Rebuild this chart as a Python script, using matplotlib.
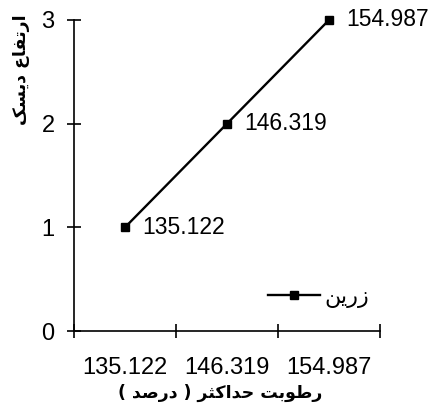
import matplotlib
matplotlib.use("Agg")
import matplotlib.pyplot as plt

# data
categories = ["135.122", "146.319", "154.987"]
heights = [1, 2, 3]
point_labels = ["135.122", "146.319", "154.987"]
y_ticks = [0, 1, 2, 3]

# persian text, pre-shaped (presentation forms, visual order) since matplotlib has no bidi
series_name = "\uFEE6\uFEF3\uFEAD\uFEAF"  # zarrin
y_title = "\uFB8F\uFEB4\uFEF3\uFEA9 \uFEC9\uFE8E\uFED4\uFE97\uFEAD\uFE8D"  # ertefa disk
x_title = ("( \uFEAA\uFEBB\uFEAD\uFEA9 ) "
           "\uFEAE\uFE9C\uFB90\uFE8D\uFEAA\uFEA3 "
           "\uFE96\uFE91\uFEEE\uFEC3\uFEAD")  # rotubat hadaksar (darsad)

plt.rcParams['font.family'] = ['Liberation Sans', 'DejaVu Sans']

fig = plt.figure(figsize=(4.30, 4.11), dpi=100)
ax = fig.add_axes([74 / 430, (411 - 331) / 411, 306 / 430, 311 / 411])

x = list(range(len(categories)))
line, = ax.plot(x, heights, color='black', lw=1.7, marker='s', ms=6.3,
                label=series_name, clip_on=False)

for xi, yi, lab in zip(x, heights, point_labels):
    ax.annotate(lab, (xi, yi), xytext=(12.5, 0), textcoords='offset points',
                ha='left', va='center', fontsize=16.5)

ax.set_xlim(-0.5, len(categories) - 0.5)
ax.set_ylim(0, 3)
ax.set_yticks(y_ticks)
ax.set_yticklabels([str(t) for t in y_ticks], fontsize=17)

# category axis: tick marks between categories, labels at the centres
ax.set_xticks([i - 0.5 for i in range(len(categories) + 1)])
ax.set_xticklabels([])
ax.set_xticks(x, minor=True)
ax.set_xticklabels(categories, minor=True, fontsize=17)
ax.tick_params(axis='x', which='minor', length=0, pad=19)
ax.tick_params(axis='both', which='major', direction='inout', length=10,
               width=1.2, color='black')
ax.tick_params(axis='y', pad=9)

for s in ['top', 'right']:
    ax.spines[s].set_visible(False)
for s in ['left', 'bottom']:
    ax.spines[s].set_linewidth(1.2)

fig.text(21 / 430, 1 - 70 / 411, y_title, rotation=90, ha='center',
         va='center', fontsize=12.5, fontweight='bold', family=['DejaVu Sans'])
fig.text(220 / 430, 1 - 393 / 411, x_title, ha='center', va='center',
         fontsize=12.5, fontweight='bold', family=['DejaVu Sans'])

leg = ax.legend(loc='center left', bbox_to_anchor=(194 / 306, 34 / 311), frameon=False,
                handlelength=2.35, handletextpad=0.2, borderpad=0, borderaxespad=0,
                prop={'family': 'DejaVu Sans', 'size': 16})

fig.savefig("out.png", dpi=100)
